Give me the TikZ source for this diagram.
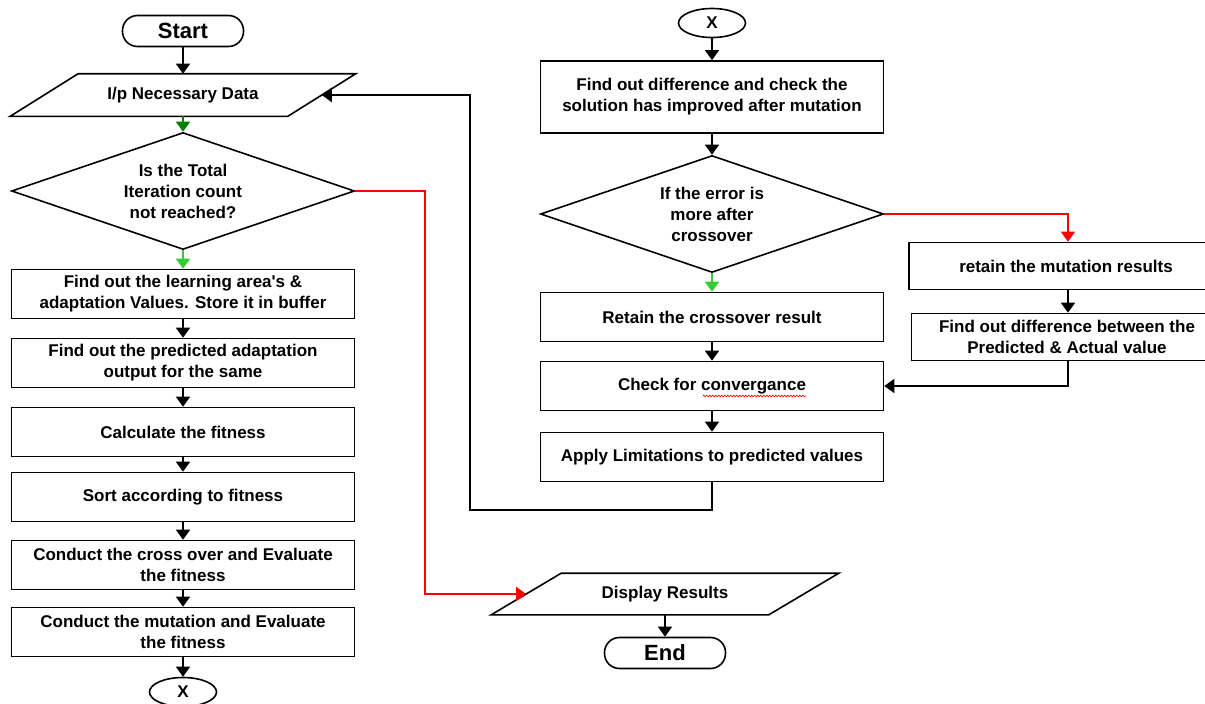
\documentclass[tikz,border=0pt]{standalone}
\usepackage{fontspec}
\setmainfont{Liberation Sans}
\usepackage{xcolor}
\usetikzlibrary{arrows.meta}
\usetikzlibrary{positioning}
\usetikzlibrary{shapes.geometric}
\usetikzlibrary{decorations.pathmorphing}
\definecolor{okgreen}{RGB}{0,128,0}
\definecolor{yesgreen}{RGB}{50,205,50}
\begin{document}
\begin{tikzpicture}[x=1pt, y=-1pt, >={Triangle[width=14pt,length=10pt]},
		every node/.style={font=\fontsize{17}{21}\selectfont\bfseries, align=center, line width=1.6pt},
		box/.style={draw, rectangle, minimum width=343pt, minimum height=49pt, inner sep=2pt},
		term/.style={draw, rectangle, rounded corners=15pt, minimum width=121pt, minimum height=31pt, inner sep=0pt, font=\fontsize{22}{22}\selectfont\bfseries},
		conn/.style={draw, ellipse, minimum width=67pt, minimum height=29pt, inner sep=0pt},
		io/.style={rectangle, minimum width=276pt, minimum height=41pt, inner sep=0pt},
		test/.style={draw, diamond, minimum width=343pt, minimum height=117pt, aspect=2.93, inner sep=0pt},
		outline/.style={line width=1.6pt, line join=miter},
		flow/.style={->, line width=1.6pt}]
		\useasboundingbox (0,0) rectangle (1205,704);
		\node[term] (start) at (183,31) {Start};
		\node[io] (inp) at (183,95) {I/p Necessary Data};
		\node[test] (count) at (183,191) {Is the Total\\Iteration count\\not reached?};
		\node[box] (area) at (183,294) {Find out the learning area\textquotesingle s \&\\adaptation Values. Store it in buffer};
		\node[box] (pred) at (183,363) {Find out the predicted adaptation\\output for the same};
		\node[box] (fit) at (183,432) {Calculate the fitness};
		\node[box] (sort) at (183,497) {Sort according to fitness};
		\node[box] (cross) at (183,565) {Conduct the cross over and Evaluate\\the fitness};
		\node[box] (mut) at (183,632) {Conduct the mutation and Evaluate\\the fitness};
		\node[conn] (xout) at (183,692) {X};
		\node[conn] (xin) at (712,23) {X};
		\node[box, minimum height=72pt] (diff) at (712,97) {Find out difference and check the\\solution has improved after mutation};
		\node[test] (err) at (712,214) {If the error is\\more after\\crossover};
		\node[box] (keep) at (712,317) {Retain the crossover result};
		\node[box] (conv) at (712,386) {Check for convergance};
		\node[box] (limit) at (712,457) {Apply Limitations to predicted values};
		\node[box, minimum width=314pt, minimum height=47pt] (keepmut) at (1066,266) {retain the mutation results};
		\node[box, minimum width=311pt, minimum height=47pt] (actual) at (1067,337) {Find out difference between the\\Predicted \& Actual value};
		\node[io, minimum height=40pt] (disp) at (665,594) {Display Results};
		\node[term] (stop) at (665,653) {End};
		\draw[outline] ([xshift=-34pt]inp.south west) -- ([xshift=34pt]inp.north west) -- ([xshift=34pt]inp.north east) -- ([xshift=-34pt]inp.south east) -- cycle;
		\draw[outline] ([xshift=-35pt]disp.south west) -- ([xshift=35pt]disp.north west) -- ([xshift=35pt]disp.north east) -- ([xshift=-35pt]disp.south east) -- cycle;
		\draw[red, line width=0.6pt, decorate, decoration={zigzag, segment length=3pt, amplitude=1pt}] (703,396) -- (806,396);
		\coordinate (back) at (470,510);
		\coordinate (done) at (425,594);
		\coordinate (join) at (1068,386);
		\draw[flow] (start) -- (inp);
		\draw[flow, okgreen] (inp) -- (count);
		\draw[flow, yesgreen] (count) -- (area);
		\draw[flow] (area) -- (pred);
		\draw[flow] (pred) -- (fit);
		\draw[flow] (fit) -- (sort);
		\draw[flow] (sort) -- (cross);
		\draw[flow] (cross) -- (mut);
		\draw[flow] (mut) -- (xout);
		\draw[flow, red] (count.east) -| (done) -- (disp.west);
		\draw[flow] (disp) -- (stop);
		\draw[flow] (xin) -- (diff);
		\draw[flow] (diff) -- (err);
		\draw[flow, yesgreen] (err) -- (keep);
		\draw[flow] (keep) -- (conv);
		\draw[flow] (conv) -- (limit);
		\draw[flow, line width=2.6pt] (limit.south) |- (back) |- (inp.east);
		\draw[flow, red] (err.east) -| (keepmut.north -| join);
		\draw[flow] (keepmut.south -| join) -- (actual.north -| join);
		\draw[flow] (actual.south -| join) -- (join) -- (conv.east);
	\end{tikzpicture}
\end{document}
